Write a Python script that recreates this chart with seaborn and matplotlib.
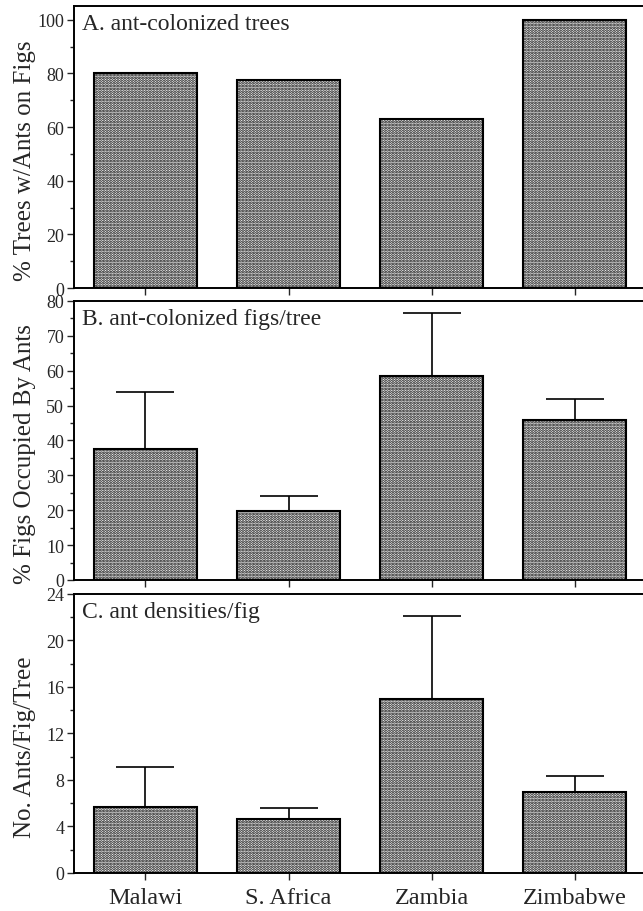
import matplotlib
matplotlib.use("Agg")
import matplotlib.pyplot as plt
import numpy as np
import seaborn as sns
from matplotlib.ticker import MultipleLocator

# Data
countries = ["Malawi", "S. Africa", "Zambia", "Zimbabwe"]
trees_pct = [80, 77.7, 63, 100]
figs_pct = [37.6, 19.7, 58.5, 45.9]
figs_err = [53.8, 24.2, 76.5, 51.9]      # top of error bar
ants_per_fig = [5.7, 4.6, 15.0, 7.0]
ants_err = [9.1, 5.6, 22.1, 8.3]         # top of error bar

sns.set_theme(style="ticks")
plt.rcParams["font.family"] = ["Liberation Serif", "DejaVu Serif"]
plt.rcParams["hatch.linewidth"] = 1.4

fig = plt.figure(figsize=(6.43, 9.12), dpi=100)
panels = [
    dict(rect=[0.115, 0.683, 0.89, 0.309], vals=trees_pct, err=None,
         ylim=105, major=20, minor=10, ylabel="% Trees w/Ants on Figs",
         title="A. ant-colonized trees", yticks=[0, 20, 40, 60, 80, 100]),
    dict(rect=[0.115, 0.363, 0.89, 0.306], vals=figs_pct, err=figs_err,
         ylim=80, major=10, minor=5, ylabel="% Figs Occupied By Ants",
         title="B. ant-colonized figs/tree", yticks=None),
    dict(rect=[0.115, 0.0417, 0.89, 0.306], vals=ants_per_fig, err=ants_err,
         ylim=24, major=4, minor=2, ylabel="No. Ants/Fig/Tree",
         title="C. ant densities/fig", yticks=None),
]

for i, p in enumerate(panels):
    ax = fig.add_axes(p["rect"])
    sns.barplot(x=countries, y=p["vals"], ax=ax, color="white", width=0.72,
                edgecolor="black", linewidth=1.5, hatch="......", saturation=1)
    if p["err"] is not None:
        vals = np.array(p["vals"])
        up = np.array(p["err"]) - vals
        ax.errorbar(np.arange(len(countries)), vals,
                    yerr=[np.zeros_like(vals), up], fmt="none",
                    ecolor="black", elinewidth=1.2, capsize=21, capthick=1.2)
    ax.set_xlim(-0.5, 3.5)
    ax.set_ylim(0, p["ylim"])
    if p["yticks"] is not None:
        ax.set_yticks(p["yticks"])
    else:
        ax.yaxis.set_major_locator(MultipleLocator(p["major"]))
    ax.yaxis.set_minor_locator(MultipleLocator(p["minor"]))
    ax.tick_params(axis="y", which="major", direction="out", length=5,
                   width=1, labelsize=13, pad=2)
    ax.tick_params(axis="y", which="minor", direction="out", length=3, width=1)
    ax.tick_params(axis="x", direction="out", length=5, width=1,
                   labelsize=17.5, pad=5)
    if i < 2:
        ax.set_xticklabels([])
    for s in ax.spines.values():
        s.set_linewidth(1.4)
        s.set_color("black")
    ax.set_ylabel(p["ylabel"], fontsize=18)
    ax.yaxis.set_label_coords(-0.066, 0.455)
    ax.text(0.014, 0.975, p["title"], transform=ax.transAxes, va="top",
            ha="left", fontsize=17)

fig.savefig("out.png", dpi=100)
